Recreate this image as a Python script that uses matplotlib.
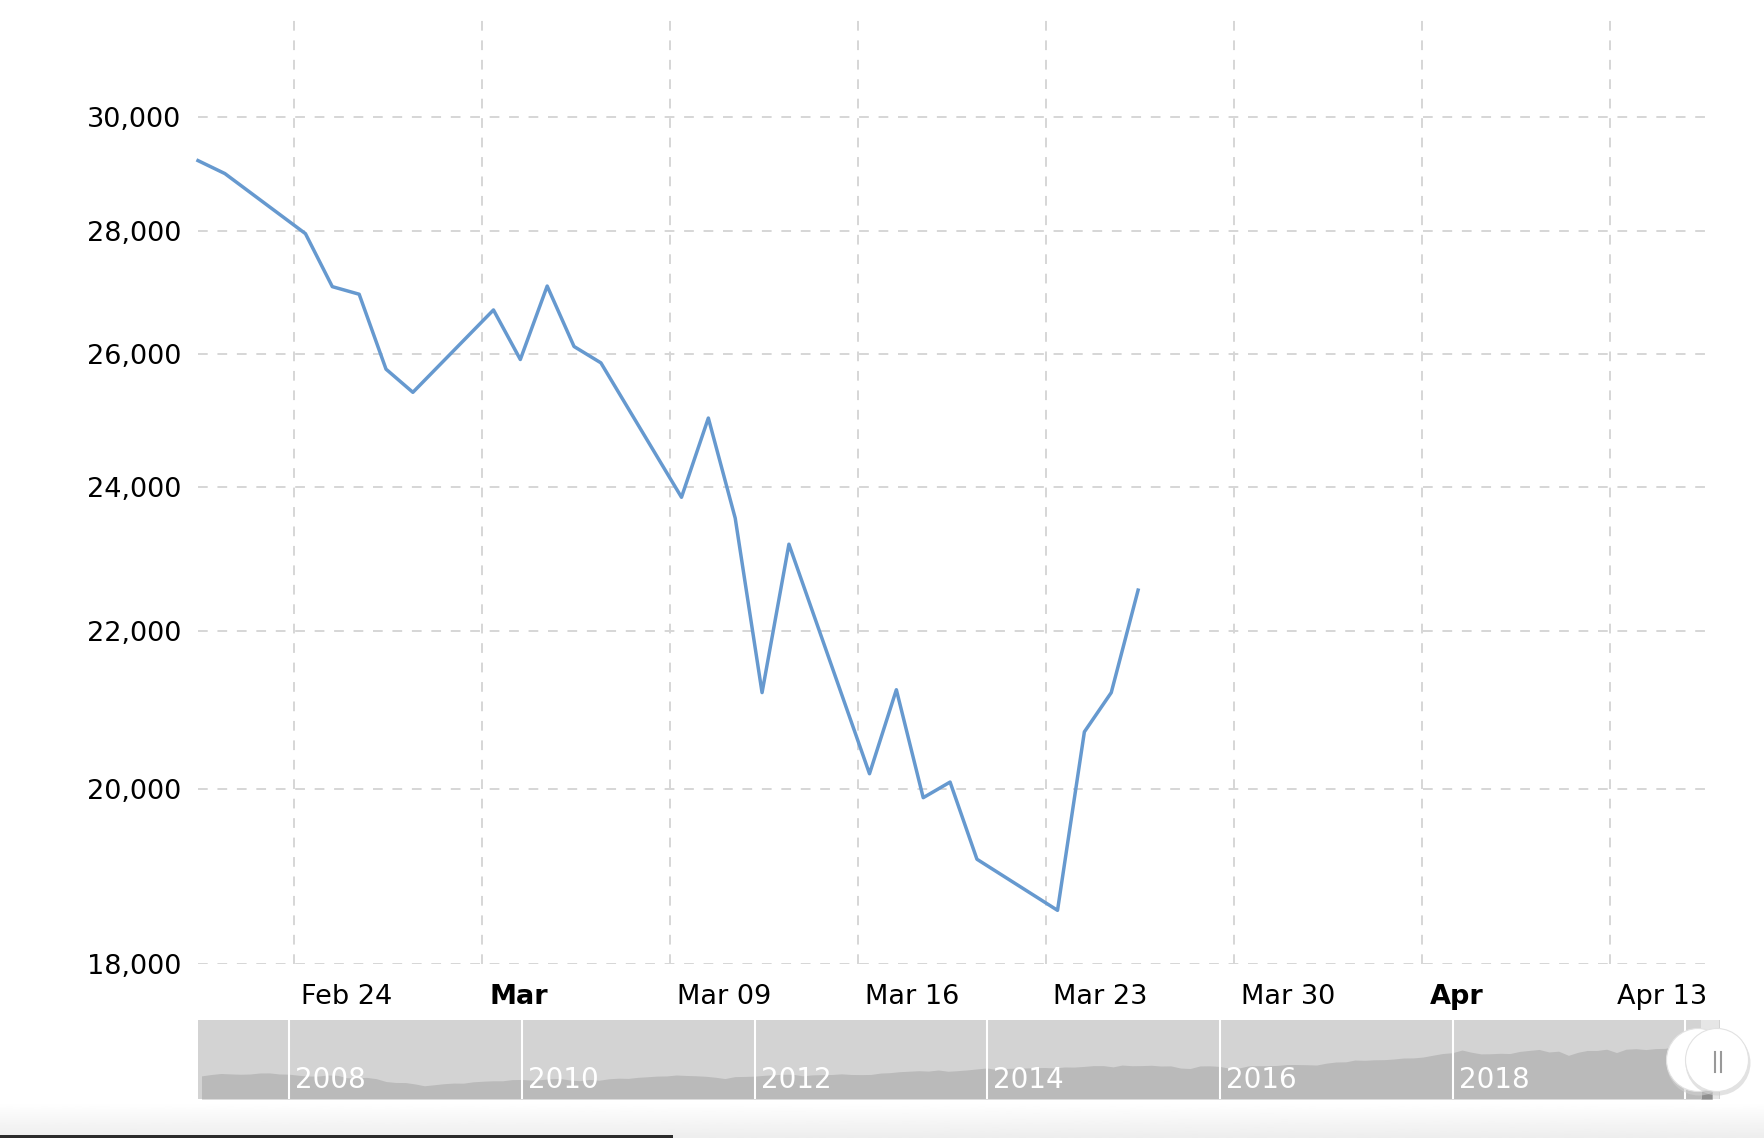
import numpy as np
import pandas as pd
import matplotlib
matplotlib.use("Agg")
import matplotlib.pyplot as plt
from matplotlib.patches import Ellipse, Rectangle
from matplotlib.lines import Line2D
from matplotlib.transforms import ScaledTranslation

plt.rcParams['font.family'] = ['DejaVu Sans']

# --- main series: Dow Jones daily closes ---
dates = ["2020-02-20", "2020-02-21", "2020-02-24", "2020-02-25", "2020-02-26",
         "2020-02-27", "2020-02-28", "2020-03-02", "2020-03-03", "2020-03-04",
         "2020-03-05", "2020-03-06", "2020-03-09", "2020-03-10", "2020-03-11",
         "2020-03-12", "2020-03-13", "2020-03-16", "2020-03-17", "2020-03-18",
         "2020-03-19", "2020-03-20", "2020-03-23", "2020-03-24", "2020-03-25",
         "2020-03-26"]
closes = [29219.98, 28992.41, 27960.80, 27081.36, 26957.59,
          25766.64, 25409.36, 26703.32, 25917.41, 27090.86,
          26121.28, 25864.78, 23851.02, 25018.16, 23553.22,
          21200.62, 23185.62, 20188.52, 21237.38, 19898.92,
          20087.19, 19173.98, 18591.93, 20704.91, 21200.55,
          22552.17]

yticks = [18000, 20000, 22000, 24000, 26000, 28000, 30000]
xtick_dates = ["2020-02-24", "2020-03-02", "2020-03-09", "2020-03-16",
               "2020-03-23", "2020-03-30", "2020-04-06", "2020-04-13"]
xtick_labels = ["Feb 24", "Mar", "Mar 09", "Mar 16", "Mar 23", "Mar 30", "Apr", "Apr 13"]
bold_labels = ["Mar", "Apr"]

# --- navigator series: monthly closes Mar 2007 .. Jan 2020 ---
nav_start = "2007-03-31"
nav_monthly = [
    12354, 13063, 13628, 13409, 13212, 13358, 13896, 13930, 13372, 13265,
    12650, 12266, 12263, 12820, 12638, 11350, 11378, 11544, 10851, 9325, 8829, 8776,
    8001, 7063, 7609, 8168, 8500, 8447, 9172, 9496, 9712, 9713, 10345, 10428,
    10067, 10325, 10857, 11009, 10137, 9774, 10466, 10015, 10788, 11118, 11006, 11578,
    11892, 12226, 12320, 12811, 12570, 12414, 12143, 11614, 10913, 11955, 12046, 12218,
    12633, 12952, 13212, 13214, 12393, 12880, 13009, 13091, 13437, 13096, 13026, 13104,
    13861, 14054, 14579, 14840, 15116, 14910, 15500, 14810, 15130, 15546, 16086, 16577,
    15699, 16322, 16458, 16581, 16717, 16827, 16563, 17098, 17043, 17391, 17828, 17823,
    17165, 18133, 17776, 17841, 18011, 17620, 17690, 16528, 16285, 17664, 17720, 17425,
    16466, 16517, 17685, 17774, 17787, 17930, 18432, 18401, 18308, 18142, 19124, 19763,
    19864, 20812, 20663, 20941, 21009, 21350, 21891, 21948, 22405, 23377, 24272, 24719,
    26149, 25029, 24103, 24163, 24416, 24271, 25415, 25965, 26458, 25116, 25538, 23327,
    24999, 25916, 25929, 26593, 24815, 26600, 26864, 26403, 26917, 27046, 28051, 28538,
    28256,
]
nav_years = [2008, 2010, 2012, 2014, 2016, 2018]
nav_lines = [2008, 2010, 2012, 2014, 2016, 2018, 2020]

line_color = "#6699cf"
grid_color = "#d6d6d6"

W, H = 1764, 1138
fig = plt.figure(figsize=(W / 100, H / 100), dpi=100)
fig.patch.set_facecolor("white")

def fx(px):
    return px / W

def fy(py):
    return 1 - py / H

# ---------------- main chart ----------------
ax = fig.add_axes([fx(198), fy(964), fx(1710) - fx(198), fy(13) - fy(964)])
t = pd.to_datetime(dates) + pd.Timedelta(hours=10)
x_end = pd.Timestamp("2020-04-16 17:00")
ax.plot(t, closes, color=line_color, lw=2.5, zorder=3, clip_on=False)

ax.set_yscale("log")
ax.set_ylim(18000, 31940)
ax.set_xlim(t[0], x_end)

ax.set_yticks(yticks, labels=[f"{v:,}" for v in yticks])
ax.minorticks_off()
ax.set_xticks(pd.to_datetime(xtick_dates), labels=xtick_labels)

ax.grid(True, which="major", color=grid_color, lw=1.4, linestyle=(0, (5, 5)))
ax.set_axisbelow(True)
for s in ax.spines.values():
    s.set_visible(False)

ax.tick_params(axis="y", length=0, pad=12, labelsize=19.5, labelcolor="black")
ax.tick_params(axis="x", length=0, pad=24, labelsize=19.5, labelcolor="black")
off = ScaledTranslation(7 / 100, 0, fig.dpi_scale_trans)
for lab in ax.get_xticklabels():
    lab.set_horizontalalignment("left")
    lab.set_verticalalignment("center")
    lab.set_transform(lab.get_transform() + off)
    if lab.get_text() in bold_labels:
        lab.set_fontweight("bold")

# ---------------- navigator ----------------
nav = fig.add_axes([fx(198), fy(1099), fx(1720) - fx(198), fy(1020) - fy(1099)])
nav_t = list(pd.date_range(nav_start, periods=len(nav_monthly), freq="ME"))
nav_t += list(t)
nav_v = nav_monthly + closes
nav.set_facecolor("#d3d3d3")
nav.fill_between(nav_t, 0, nav_v, color="#bababa", lw=0)
nav.axvspan(t[0], x_end, color="#e6e6e6", lw=0)
nav.fill_between(t, 0, closes, color="#8e8e8e", lw=0)
for yr in nav_lines:
    nav.axvline(pd.Timestamp(f"{yr}-01-01"), color="white", lw=1.5)
yr_off = ScaledTranslation(6 / 100, 0, fig.dpi_scale_trans)
for yr in nav_years:
    nav.text(pd.Timestamp(f"{yr}-01-01"), 0.24, str(yr), color="white", fontsize=20,
             ha="left", va="center", transform=nav.get_xaxis_transform() + yr_off)
nav.set_xlim(nav_t[0] - pd.Timedelta(days=11), pd.Timestamp("2020-04-20"))
nav.set_ylim(0, 42200)
nav.set_xticks([])
nav.set_yticks([])
for s in nav.spines.values():
    s.set_visible(False)

# handles
for cx in (1698, 1717):
    fig.add_artist(Ellipse((fx(cx + 1), fy(1063)), 65 / W, 65 / H, color="#cfcfcf", alpha=0.6, lw=0))
    fig.add_artist(Ellipse((fx(cx), fy(1060)), 63 / W, 63 / H, facecolor="white",
                           edgecolor="#e2e2e2", lw=0.8))
for gx in (1715, 1721):
    fig.add_artist(Line2D([fx(gx), fx(gx)], [fy(1052), fy(1072)], color="#999999", lw=1.5))

# page bottom: faint shade and scrollbar strip
grad = fig.add_axes([0, 0, 1, fy(1104)])
grad.imshow(np.linspace(1.0, 0.93, 50).reshape(-1, 1), cmap="gray", vmin=0, vmax=1,
            aspect="auto", extent=[0, 1, 0, 1], origin="upper")
grad.axis("off")
grad.set_zorder(-1)
fig.add_artist(Rectangle((0, 0), fx(673), 3 / H, color="#2b2b2b", lw=0))

fig.savefig("out.png", dpi=100, facecolor="white")
